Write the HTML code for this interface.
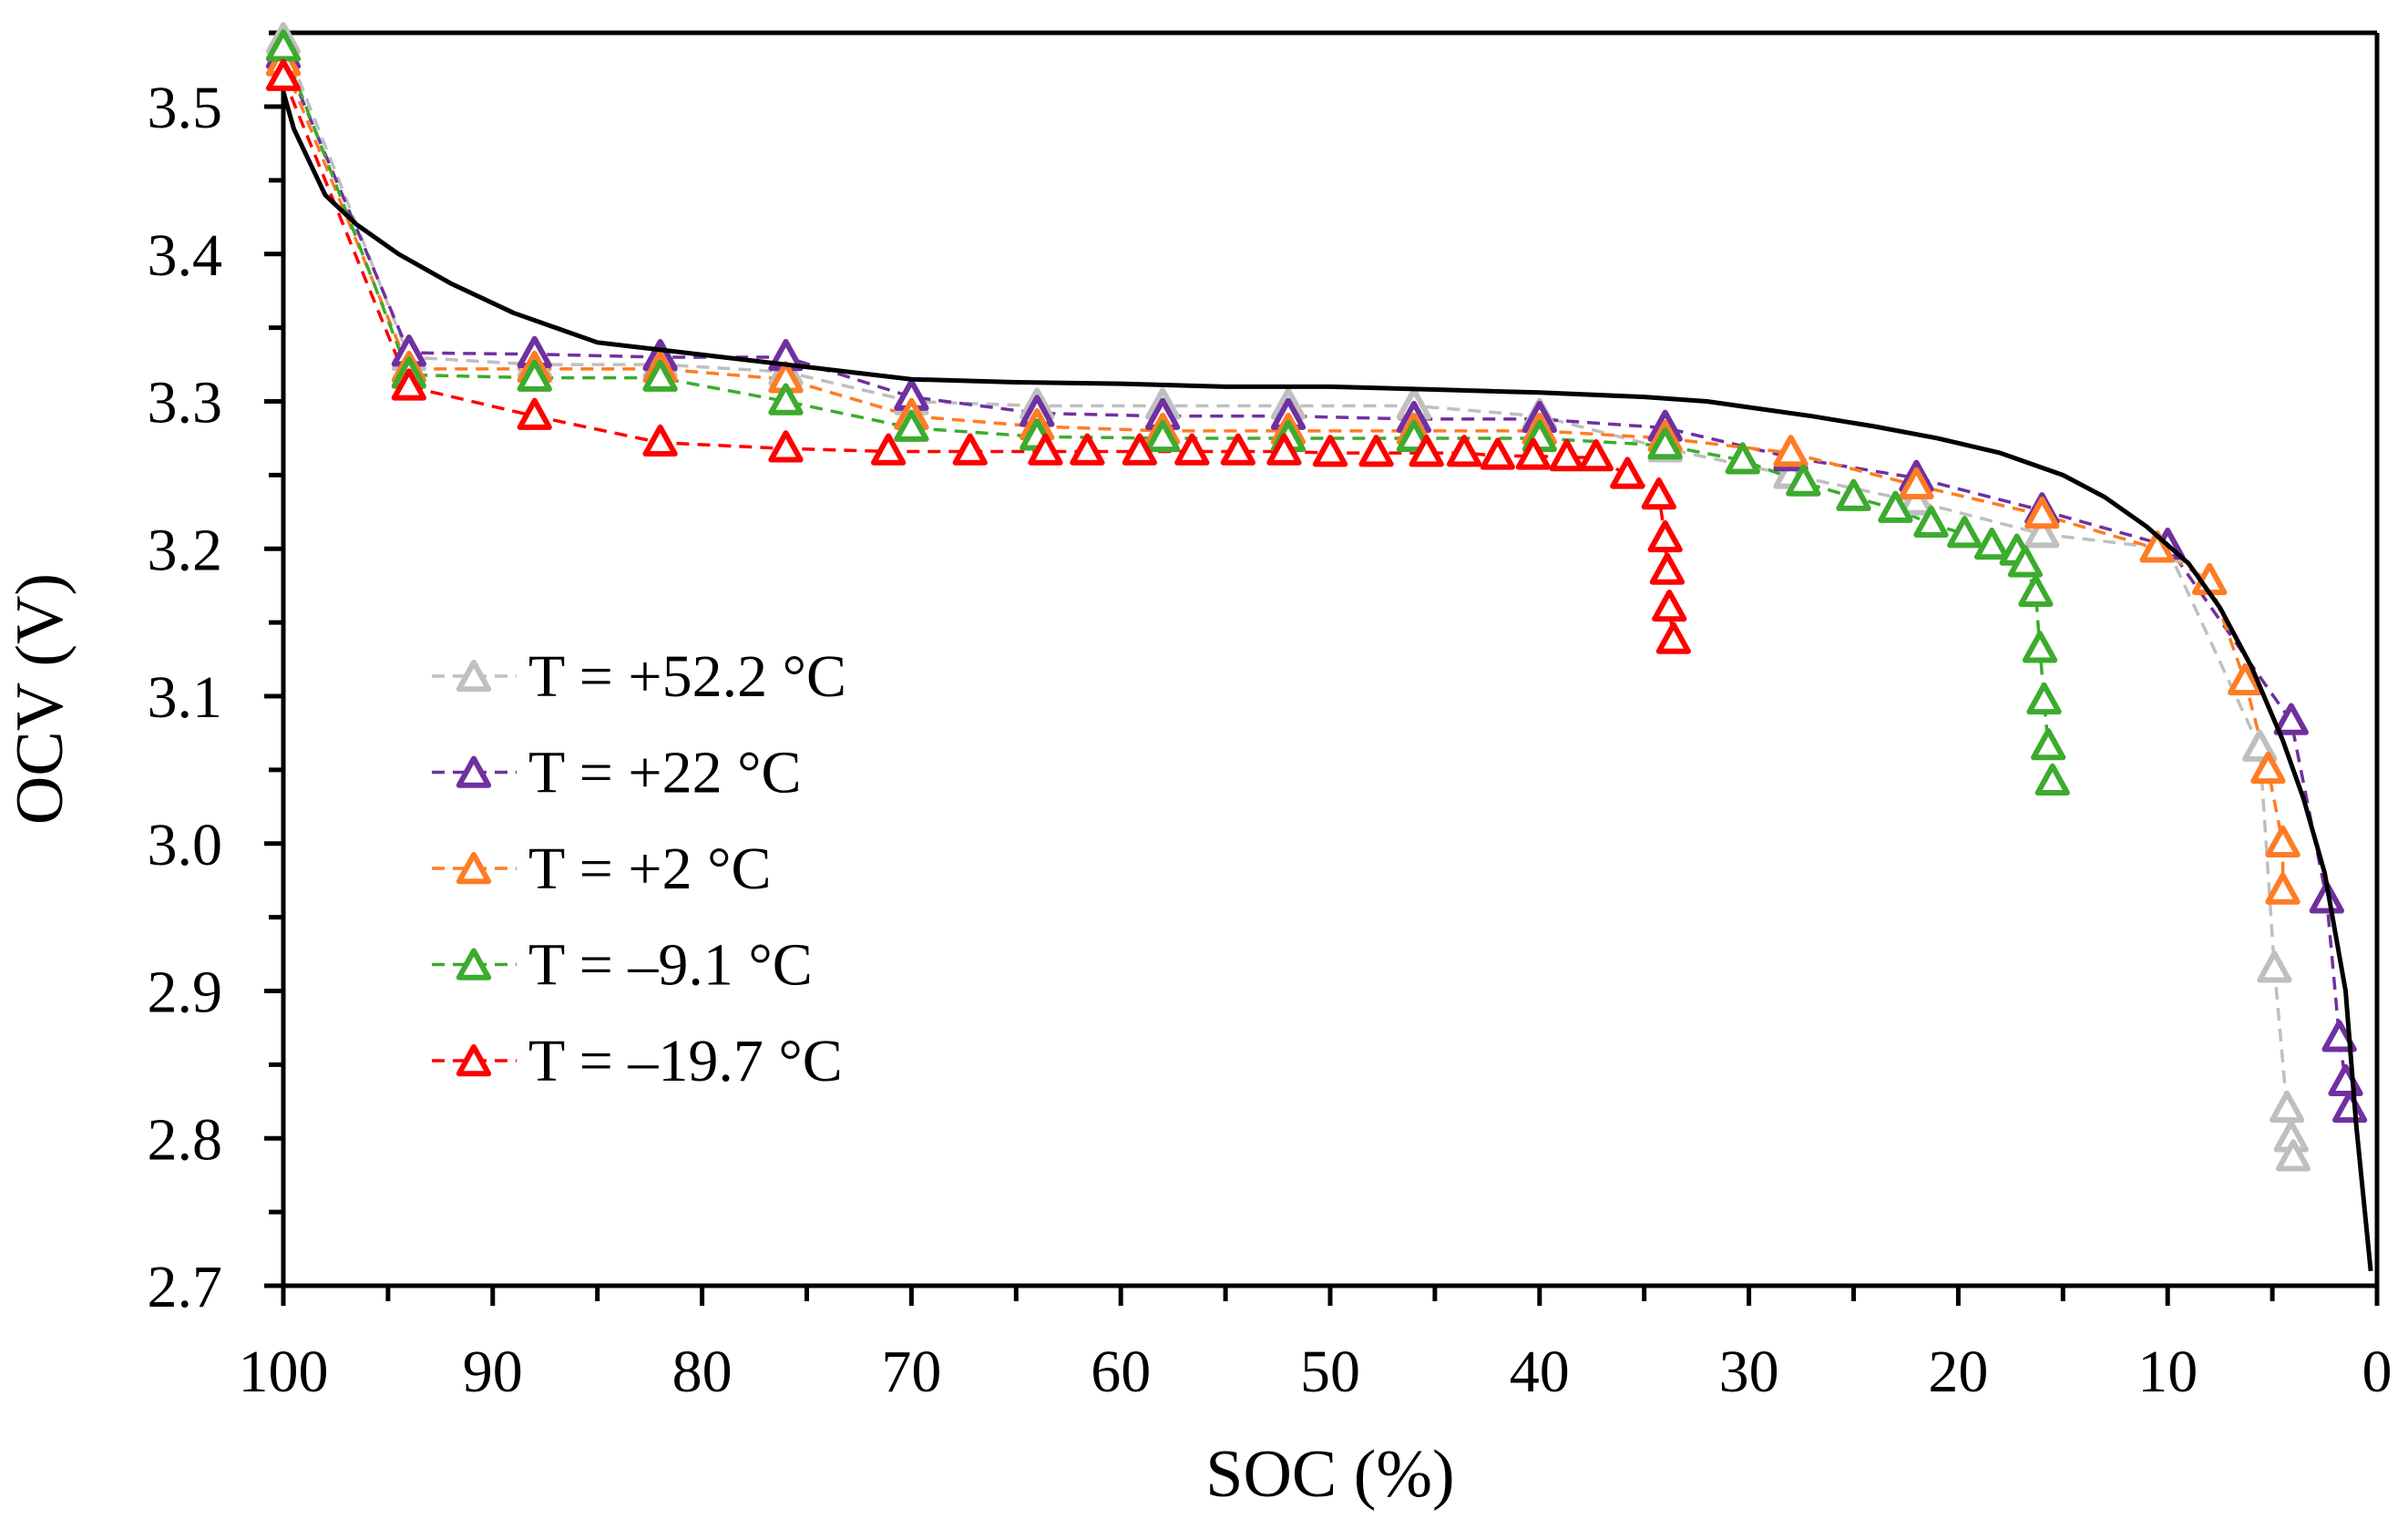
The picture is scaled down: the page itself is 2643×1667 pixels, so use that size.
<!DOCTYPE html>
<html><head><meta charset="utf-8"><style>
html,body{margin:0;padding:0;background:#fff;}
svg{display:block;font-family:"Liberation Serif",serif;}
</style></head><body>
<svg id="chart" width="2643" height="1667" viewBox="0 0 2643 1667" xmlns="http://www.w3.org/2000/svg">
<g id="frame"></g>
<g id="series"></g>
<g id="legend"></g>
<text x="0" y="0" transform="translate(68,767) rotate(-90)" text-anchor="middle" font-size="74">OCV (V)</text>
<text x="1460" y="1642" text-anchor="middle" font-size="74">SOC (%)</text>
</svg>
<script>
const xTicks=[100,90,80,70,60,50,40,30,20,10,0];
const yTicks=[2.7,2.8,2.9,3.0,3.1,3.2,3.3,3.4,3.5];
const yTickLabels=["2.7","2.8","2.9","3.0","3.1","3.2","3.3","3.4","3.5"];
const refSoc=[100,99.5,99,98,96.5,94.5,92,89,87,85,82,79,76,73,70,65,60,55,50,45,40,35,32,30,27,24,21,18,15,13,11,9,7.5,6,4.5,3.5,2.5,1.5,1,0.3];
const refV=[3.51,3.485,3.47,3.44,3.42,3.40,3.38,3.36,3.35,3.34,3.335,3.33,3.325,3.32,3.315,3.313,3.312,3.31,3.31,3.308,3.306,3.303,3.30,3.296,3.29,3.283,3.275,3.265,3.25,3.235,3.215,3.19,3.16,3.12,3.07,3.03,2.98,2.90,2.81,2.71];
const graySoc=[100,94,88,82,76,70,64,58,52,46,40,34,28,22,16,10,5.6,4.9,4.3,4.1,4.0];
const grayV=[3.545,3.33,3.325,3.325,3.32,3.30,3.297,3.297,3.297,3.297,3.29,3.268,3.25,3.232,3.21,3.20,3.065,2.915,2.82,2.80,2.787];
const purpleSoc=[100,94,88,82,76,70,64,58,52,46,40,34,28,22,16,10,4.1,2.4,1.8,1.5,1.3];
const purpleV=[3.535,3.333,3.332,3.33,3.33,3.303,3.292,3.29,3.29,3.288,3.288,3.282,3.262,3.248,3.226,3.202,3.083,2.962,2.868,2.838,2.82];
const orangeSoc=[100,94,88,82,76,70,64,58,52,46,40,34,28,22,16,10.5,8,6.3,5.2,4.5,4.5];
const orangeV=[3.53,3.322,3.322,3.322,3.315,3.29,3.283,3.28,3.28,3.28,3.28,3.275,3.265,3.243,3.223,3.2,3.178,3.11,3.05,3.0,2.968];
const greenSoc=[100,94,88,82,76,70,64,58,52,46,40,34,30.3,27.4,25,23,21.3,19.7,18.4,17.2,16.8,16.3,16.1,15.9,15.7,15.5];
const greenV=[3.54,3.318,3.316,3.316,3.30,3.282,3.276,3.275,3.275,3.275,3.275,3.27,3.26,3.245,3.235,3.227,3.217,3.21,3.202,3.198,3.19,3.17,3.132,3.097,3.066,3.042];
const redSoc=[100,94,88,82,76,71.1,67.2,63.6,61.6,59.1,56.6,54.4,52.2,50.0,47.8,45.4,43.6,42.0,40.3,38.7,37.3,35.8,34.3,34.0,33.9,33.8,33.6];
const redV=[3.52,3.31,3.29,3.272,3.268,3.266,3.266,3.266,3.266,3.266,3.266,3.266,3.266,3.265,3.265,3.265,3.265,3.263,3.263,3.262,3.262,3.25,3.236,3.207,3.185,3.16,3.138];
const seriesNames=["T = +52.2 °C","T = +22 °C","T = +2 °C","T = –9.1 °C","T = –19.7 °C"];

const NS="http://www.w3.org/2000/svg";
const X0=311,X1=2609,Y0=1411,Y1=117;
const xs=s=>X0+(100-s)/100*(X1-X0);
const ys=v=>Y0-(v-2.7)/0.8*(Y0-Y1);
function mk(tag,attrs,parent){const e=document.createElementNS(NS,tag);for(const k in attrs)e.setAttribute(k,attrs[k]);parent.appendChild(e);return e;}
const frame=document.getElementById('frame');
let e;
e=mk('line',{x1:295,y1:36,x2:2609,y2:36,stroke:'#000','stroke-width':5},frame);


e=mk('line',{x1:2609,y1:36,x2:2609,y2:1433,stroke:'#000','stroke-width':5},frame);


e=mk('line',{x1:X0,y1:36,x2:X0,y2:1433,stroke:'#000','stroke-width':5},frame);


e=mk('line',{x1:290,y1:Y0,x2:X1,y2:Y0,stroke:'#000','stroke-width':5},frame);


xTicks.forEach((t,i)=>{
  const x=xs(t);
  e=mk('line',{x1:x,y1:Y0,x2:x,y2:1433,stroke:'#000','stroke-width':5},frame);
  
  
  if(i<xTicks.length-1){const xm=xs(t-5);
    e=mk('line',{x1:xm,y1:Y0,x2:xm,y2:1428,stroke:'#000','stroke-width':5},frame);
    
    }
  e=mk('text',{x:x,y:1527,'text-anchor':'middle','font-size':66},frame);
  e.textContent=String(t);
  
  
});
yTicks.forEach((t,i)=>{
  const y=ys(t);
  e=mk('line',{x1:290,y1:y,x2:X0,y2:y,stroke:'#000','stroke-width':5},frame);
  
  
  const ym=ys(t+0.05);
  e=mk('line',{x1:295,y1:ym,x2:X0,y2:ym,stroke:'#000','stroke-width':5},frame);
  
  
  e=mk('text',{x:244,y:y+23,'text-anchor':'end','font-size':66},frame);
  e.textContent=yTickLabels[i];
  
  
});
const sg=document.getElementById('series');
function tri(cx,cy,col,parent){
  const r=17;
  return mk('polygon',{points:`${cx},${cy-r} ${cx+r*0.95},${cy+r*0.72} ${cx-r*0.95},${cy+r*0.72}`,fill:'#fff',stroke:col,'stroke-width':6,'stroke-linejoin':'round'},parent);
}
const cols=['#bfbfbf','#7030a0','#ff7c24','#3cab2e','#ff0000'];
const data=[[graySoc,grayV],[purpleSoc,purpleV],[orangeSoc,orangeV],[greenSoc,greenV],[redSoc,redV]];
const keys=['gray','purple','orange','green','red'];
data.forEach((d,k)=>{
  const pts=d[0].map((s,i)=>xs(s)+','+ys(d[1][i])).join(' ');
  e=mk('polyline',{points:pts,fill:'none',stroke:cols[k],'stroke-width':3.5,'stroke-dasharray':'14 9'},sg);
  
  
});
data.forEach((d,k)=>{
  d[0].forEach((s,i)=>{
    e=tri(xs(s),ys(d[1][i]),cols[k],sg);
    
    
  });
});
e=mk('polyline',{points:refSoc.map((s,i)=>xs(s)+','+ys(refV[i])).join(' '),fill:'none',stroke:'#000','stroke-width':5,'stroke-linejoin':'round'},sg);


const lg=document.getElementById('legend');
seriesNames.forEach((n,k)=>{
  const y=742+k*105.5;
  const g=mk('g',{},lg);
  
  
  mk('line',{x1:474,y1:y,x2:567,y2:y,stroke:cols[k],'stroke-width':3.5,'stroke-dasharray':'14 9'},g);
  tri(520,y+2,cols[k],g);
  const t=mk('text',{x:580,y:y+22,'font-size':66},g);
  t.textContent=n;
});
</script>
</body></html>
